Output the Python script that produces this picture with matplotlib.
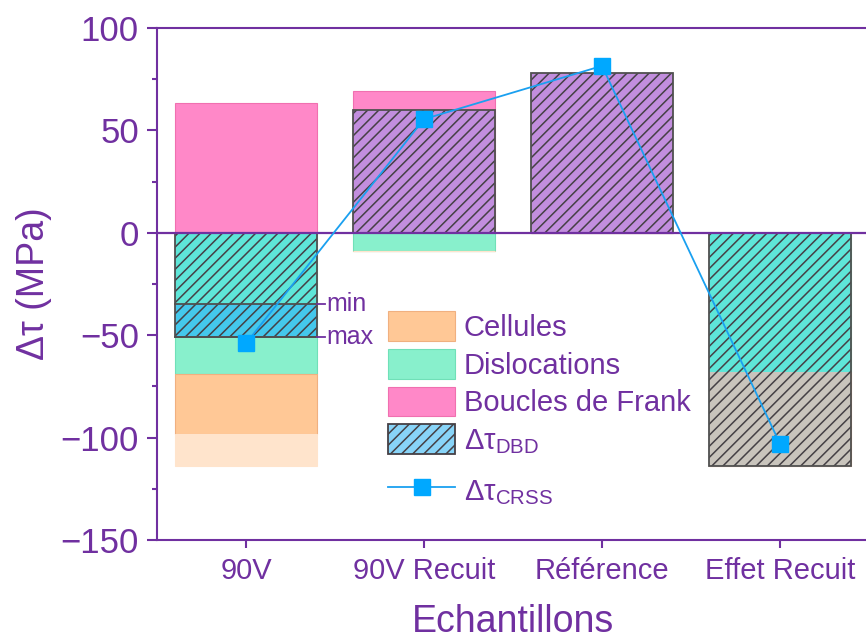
import matplotlib
matplotlib.use("Agg")
import matplotlib.pyplot as plt
from matplotlib.patches import Patch
from matplotlib.lines import Line2D
from matplotlib.ticker import MultipleLocator

plt.rcParams['font.family'] = ['Liberation Sans', 'DejaVu Sans']
plt.rcParams['mathtext.default'] = 'regular'
plt.rcParams['hatch.linewidth'] = 1.1

PURPLE = '#7030A0'
HATCH = '///'

categories = ['90V', '90V Recuit', 'Référence', 'Effet Recuit']
boucles = [63.5, 69, 0, 0]
dislocations = [-69, -9, 0, -68]
cellules = [-29, 0, 0, -46]          # stacked below dislocations
cellules_extra = [-16, 0, 0, 0]      # lighter range below cellules
dbd_min = [-35, 60, 78, -114]
dbd_max = [-51, 60, 78, -114]
crss = [-54, 55.5, 81.5, -103]
yticks = [-150, -100, -50, 0, 50, 100]

fig = plt.figure(figsize=(8.66, 6.39), dpi=100)
ax = fig.add_axes([157/866, (639-540)/639, (869-157)/866, (540-28)/639])

x = list(range(len(categories)))
w = 0.8

c_pink = '#ff88c8'
c_green = '#88f0cc'
c_orange = '#ffc896'
c_light = '#ffe4cc'

ax.bar(x, boucles, w, color=c_pink, edgecolor='#f070b0', lw=0.8, zorder=2)
ax.bar(x, dislocations, w, color=c_green, edgecolor='#70e0b8', lw=0.8, zorder=2)
ax.bar(x, cellules, w, bottom=dislocations, color=c_orange, edgecolor='#f0b080', lw=0.8, zorder=2)
bot2 = [d + c for d, c in zip(dislocations, cellules)]
ax.bar(x, cellules_extra, w, bottom=bot2, color=c_light, edgecolor='#ffe4cc', lw=0.8, zorder=2)

# DBD hatched overlay, colour depends on what lies underneath
def dbd_color(lo, hi, i):
    mid = (lo + hi) / 2
    if mid > 0:
        return '#c28ede'
    if i == 0 and mid < dbd_min[0]:
        return '#44c8ec'
    if mid > dislocations[i]:
        return '#5ee6d8'
    return '#c9c4bc'

for i in x:
    if dbd_max[i] > 0:
        edges = [dbd_max[i], 0]
    else:
        pts = {0, dbd_min[i], dbd_max[i]}
        if dbd_max[i] < dislocations[i] < 0:
            pts.add(dislocations[i])
        edges = sorted(pts, reverse=True)
    for hi, lo in zip(edges[:-1], edges[1:]):
        col = dbd_color(lo, hi, i)
        ax.bar(i, lo - hi, w, bottom=hi, color=col, edgecolor='#454045', lw=0, hatch=HATCH, zorder=3)
    top, bottom = max(0, dbd_max[i]), min(0, dbd_max[i])
    ax.bar(i, top - bottom, w, bottom=bottom, fill=False, edgecolor='#505050', lw=1.3, zorder=4)

# min / max markers on 90V
for val, lab in [(dbd_min[0], 'min'), (dbd_max[0], 'max')]:
    ax.plot([-0.4, 0.4], [val, val], color='#505050', lw=1.3, zorder=4)
    ax.plot([0.4, 0.445], [val, val], color=PURPLE, lw=1.3, zorder=4)
    ax.text(0.45, val, lab, color=PURPLE, fontsize=18, va='center', ha='left', zorder=5)

ax.axhline(0, color=PURPLE, lw=1.6, zorder=5)

ax.plot(x, crss, color='#1aa0f0', lw=1.3, marker='s', markersize=11.5,
        markerfacecolor='#00a8ff', markeredgecolor='#00a8ff', zorder=6)

ax.set_xlim(-0.5, 3.5)
ax.set_ylim(-150, 100)
ax.set_yticks(yticks)
ax.yaxis.set_minor_locator(MultipleLocator(25))
ax.set_yticklabels([f'\u2212{abs(v)}' if v < 0 else str(v) for v in yticks])
ax.set_xticks(x)
ax.set_xticklabels(categories)

for s in ['left', 'bottom', 'top']:
    ax.spines[s].set_color(PURPLE)
    ax.spines[s].set_linewidth(1.5)
ax.spines['right'].set_visible(False)

ax.tick_params(axis='y', which='major', length=7, width=1.5, color=PURPLE, labelcolor=PURPLE, labelsize=25, pad=6)
ax.tick_params(axis='y', which='minor', length=3.5, width=1.5, color=PURPLE)
ax.tick_params(axis='x', which='major', length=6, width=1.5, color=PURPLE, labelcolor=PURPLE, labelsize=21, pad=6)

ax.set_ylabel('\u0394\u03c4 (MPa)', color=PURPLE, fontsize=27, labelpad=6)
ax.set_xlabel('Echantillons', color=PURPLE, fontsize=27, labelpad=14)

handles = [
    Patch(facecolor=c_orange, edgecolor='#f0b080', lw=0.8),
    Patch(facecolor=c_green, edgecolor='#70e0b8', lw=0.8),
    Patch(facecolor=c_pink, edgecolor='#f070b0', lw=0.8),
    Patch(facecolor='#88d4f8', edgecolor='#454045', lw=1.3, hatch=HATCH),
]
labels = ['Cellules', 'Dislocations', 'Boucles de Frank', '\u0394\u03c4$_{DBD}$']
leg = fig.legend(handles, labels, loc='upper left', bbox_to_anchor=(388/866, 1 - 311/639),
                 frameon=False, fontsize=21, handlelength=2.3, handleheight=1.2,
                 handletextpad=0.3, labelspacing=0.24, borderpad=0, borderaxespad=0)
for t in leg.get_texts():
    t.set_color(PURPLE)

line_handle = Line2D([0], [0], color='#1aa0f0', lw=1.3, marker='s', markersize=11.5,
                     markerfacecolor='#00a8ff', markeredgecolor='#00a8ff')
leg2 = fig.legend([line_handle], ['\u0394\u03c4$_{CRSS}$'], loc='upper left',
                  bbox_to_anchor=(388/866, 1 - 475/639), frameon=False, fontsize=21,
                  handlelength=2.3, handleheight=1.2, handletextpad=0.3,
                  borderpad=0, borderaxespad=0)
for t in leg2.get_texts():
    t.set_color(PURPLE)

fig.savefig('out.png', dpi=100)
